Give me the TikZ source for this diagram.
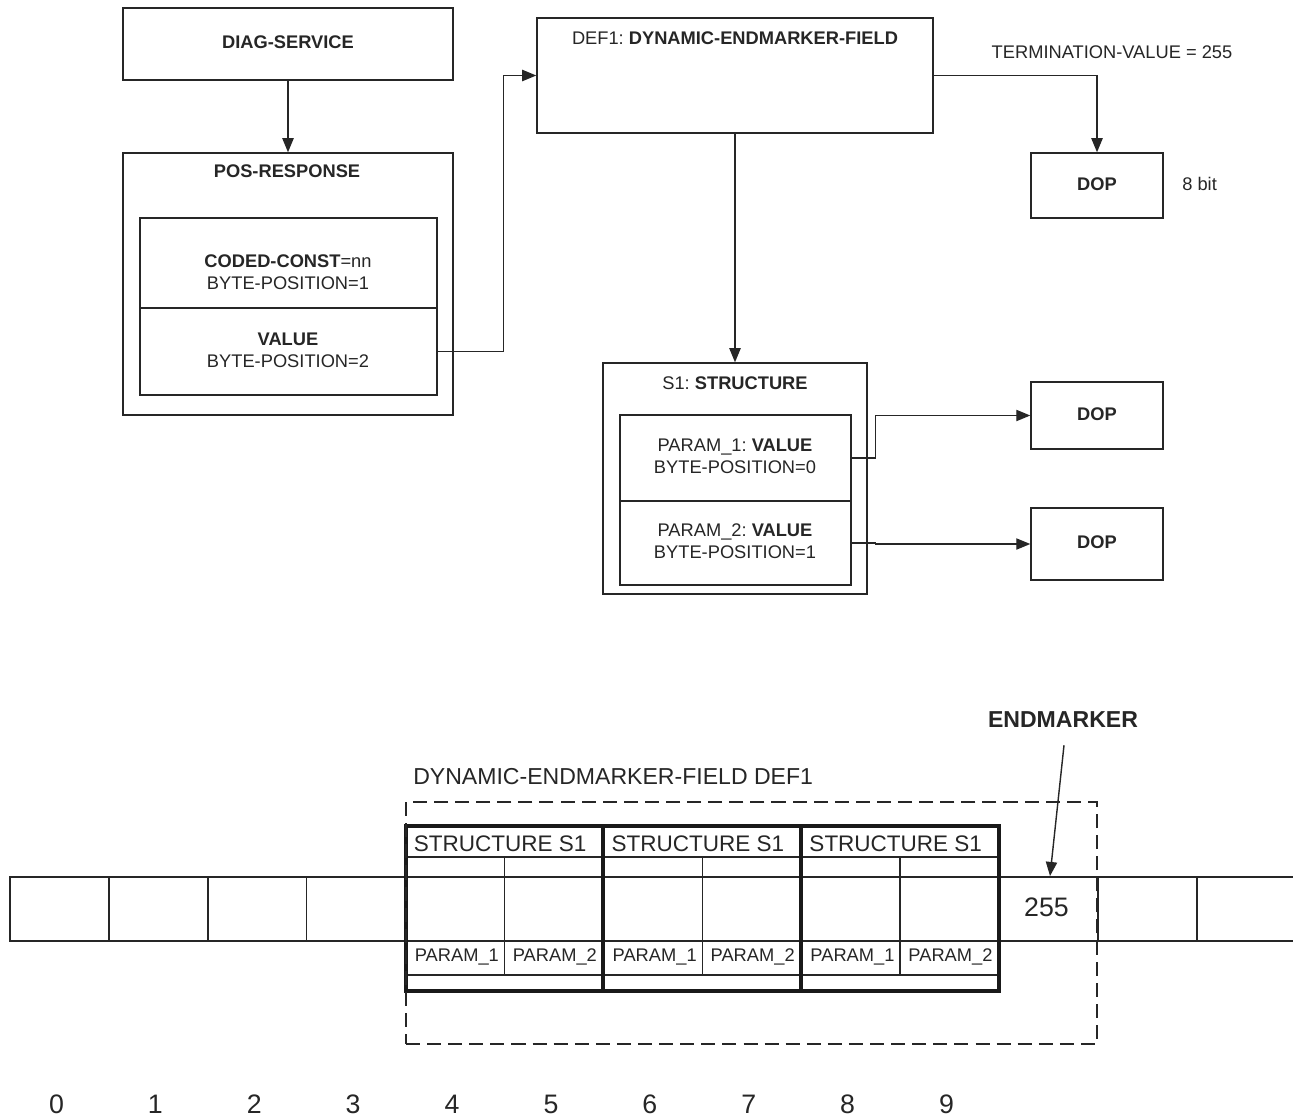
\documentclass[tikz,border=0pt]{standalone}
\usepackage{fontspec}
\setmainfont{Liberation Sans}
\frenchspacing
\usepackage{tikz}
\usetikzlibrary{positioning,calc,fit,arrows.meta}

\begin{document}
\begin{tikzpicture}[x=0.025cm, y=-0.025cm,
    box/.style={draw=black!85, line width=1pt, inner sep=0pt},
    bigbox/.style={draw=black!90, line width=2.8pt, inner sep=0pt},
    lbl/.style={inner sep=0pt, text=black!85, font=\fontsize{13}{15.6}\selectfont, align=center},
    arr/.style={-{Triangle[length=10pt,width=8pt]}, line width=1pt, draw=black!85},
    thinline/.style={draw=black!85, line width=0.9pt},
    big/.style={font=\fontsize{19}{22}\selectfont},
    mid/.style={font=\fontsize{16.4}{19}\selectfont}
]
\fill[white] (0,0) rectangle (1293,1119);
\useasboundingbox (0,0) rectangle (1293,1119);

% upper part: service, response and the field definition
\node[box, fit={(123,8) (453,80)}] (diag) {};
\node[lbl] (diagtext) at (288,42) {\bfseries DIAG-SERVICE};

\node[box, fit={(123,153) (453,415)}] (resp) {};
\node[lbl] (resptitle) at (287,171) {\bfseries POS-RESPONSE};
\node[box, fit={(140,218) (437,308)}] (cconst) {};
\node[lbl] (cctext) at (288,272) {\textbf{CODED-CONST}=nn\\BYTE-POSITION=1};
\node[box, fit={(140,308) (437,395)}] (val) {};
\node[lbl] (valtext) at (288,350) {\textbf{VALUE}\\BYTE-POSITION=2};

\node[box, fit={(537,18) (933,133)}] (def) {};
\node[lbl] (deftitle) at (735,38) {DEF1: \textbf{DYNAMIC-ENDMARKER-FIELD}};
\node[lbl] (term) at (1112,52) {TERMINATION-VALUE = 255};
\node[box, fit={(1031,153) (1163,218)}] (dop) {};
\node[lbl] (doptext) at (1097,184) {\bfseries DOP};
\node[lbl, anchor=west] (bits) at (1182,184) {8 bit};

\node[box, fit={(603,363) (867,594)}] (s1) {};
\node[lbl] (s1title) at (735,383) {S1: \textbf{STRUCTURE}};
\node[box, fit={(620,415) (851,501)}] (p1) {};
\node[lbl] (p1text) at (735,456) {PARAM\_1: \textbf{VALUE}\\BYTE-POSITION=0};
\node[box, fit={(620,501) (851,585)}] (p2) {};
\node[lbl] (p2text) at (735,541) {PARAM\_2: \textbf{VALUE}\\BYTE-POSITION=1};
\node[box, fit={(1031,382) (1163,449)}] (dopa) {};
\node[lbl] (dopatext) at (1097,414) {\bfseries DOP};
\node[box, fit={(1031,508) (1163,580)}] (dopb) {};
\node[lbl] (dopbtext) at (1097,542) {\bfseries DOP};

\draw[arr] (diag.south) -- (resp.north);
\draw[arr] (val.east) -- ++(66,0) |- (def.west);
\draw[arr] (def.east) -| (dop.north);
\draw[arr] (def.south) -- (s1.north);
\draw[arr] (p1.east) -- ++(24,0) |- (dopa.west);
\draw[arr] (p2.east) -- ++(24,0) |- (dopb.west);

% lower part: byte stream with the dynamic field laid over it
\foreach \i in {0,...,12}
    \node[box, fit={(10+98.9*\i,877) (108.9+98.9*\i,941)}] (b\i) {};
\foreach \i in {0,...,9}
    \node[lbl, big] (n\i) at ($(b\i.center)+(-3,195)$) {\i};
\node[lbl, big] (endval) at ($(b10.center)+(-2,-2)$) {255};

\foreach \k in {0,1,2} {
    \pgfmathsetmacro{\xl}{10+98.9*(4+2*\k)}
    \draw[thinline] (\xl,857) -- (\xl+197.8,857)
        (\xl,975) -- (\xl+197.8,975)
        (\xl+98.9,857) -- (\xl+98.9,975);
    \node[lbl, anchor=west, font=\fontsize{16}{19}\selectfont] (sn\k) at (\xl+8,844) {STRUCTURE S1};
    \node[lbl, anchor=west] (pa\k) at (\xl+9,957) {PARAM\_1};
    \node[lbl, anchor=west] (pb\k) at (\xl+107,957) {PARAM\_2};
    \node[bigbox, fit={(\xl,826) (\xl+197.8,991)}] (st\k) {};
}

\node[draw=black!85, line width=1.4pt, dash pattern=on 10pt off 5pt, inner sep=0pt,
      fit={(406,802) (1097,1044)}] (field) {};
\node[lbl, mid, anchor=west] (fieldname) at (413,777) {DYNAMIC-ENDMARKER-FIELD DEF1};
\node[lbl, mid] (endm) at (1063,720) {\bfseries ENDMARKER};
\coordinate (emtip) at (1050,876);
\draw[arr] (endm.south) ++(1,17) -- (emtip);
\end{tikzpicture}
\end{document}
